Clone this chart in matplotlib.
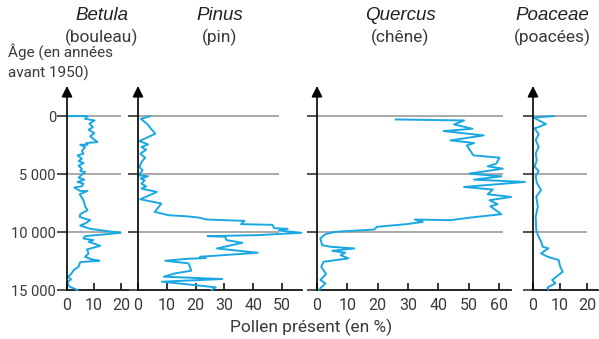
import matplotlib
matplotlib.use("Agg")
import matplotlib.pyplot as plt

# pollen percentages, ages in years before 1950
betula_age = [0, 0, 229, 373, 660, 946, 1176, 1463, 1749, 2237, 2323, 2466, 2466, 2667,
              3011, 3241, 3384, 3671, 3872, 4044, 4273, 4531, 4732, 4818, 5105, 5306,
              5478, 5679, 5822, 6052, 6166, 6453, 6453, 6740, 7256, 7772, 8116, 8461,
              8690, 8833, 8977, 9264, 9436, 9723, 9952, 10067, 10181, 10354, 10554,
              10698, 10841, 11185, 11501, 11845, 12132, 12361, 12476, 12590, 12992,
              13279, 13623, 13852, 14082, 14369, 14713, 15000]
betula_val = [0.2, 7.6, 6.7, 10.2, 8.3, 9.6, 8.0, 10.1, 8.6, 11.3, 7.1, 7.6, 4.9, 6.7,
              5.5, 6.1, 3.9, 5.5, 4.3, 6.1, 4.3, 5.5, 4.9, 6.7, 5.2, 4.3,
              6.4, 3.9, 6.1, 5.5, 2.7, 4.9, 7.6, 4.7, 6.1, 6.7, 7.6, 4.9,
              4.7, 6.4, 8.6, 6.7, 4.9, 8.6, 16.0, 19.9, 14.7, 6.7, 6.1,
              9.8, 8.0, 12.3, 7.4, 8.0, 6.7, 9.2, 12.0, 4.9, 4.3,
              2.5, 1.5, 0.4, 1.5, 0.0, 1.0, 3.9]

pinus_age = [0, 230, 660, 1520, 2151, 2438, 2667, 2897, 3241, 3585, 3958, 4388, 4675,
             5105, 5191, 5392, 5535, 5822, 6052, 6252, 6539, 7170, 7543, 8260, 8547,
             8633, 8747, 8920, 9034, 9321, 9378, 9665, 9723, 9866, 10067, 10153,
             10267, 10354, 10411, 10698, 10927, 11415, 11788, 12132, 12246, 12304,
             12476, 12705, 13336, 13565, 13852, 14053, 14283, 14770, 15000]
pinus_val = [4.3, 1.0, 3.1, 6.0, 0.5, 3.5, 1.2, 2.8, 0.8, 2.5, 1.2, 0.5, 1.6,
             0.2, 3.5, 0.9, 2.3, 1.2, 2.8, 1.2, 6.6, 0.8, 8.1, 5.8, 10.6,
             16.4, 21.0, 23.9, 37.0, 35.8, 46.7, 47.3, 52.0, 49.0, 56.8, 49.9,
             41.8, 24.2, 30.3, 30.8, 36.3, 27.4, 41.6, 21.6, 23.6, 17.3,
             9.5, 17.6, 18.5, 12.9, 9.0, 29.3, 8.3, 27.0, 25.6]

quercus_age = [287, 373, 717, 1090, 1290, 1663, 2094, 2237, 2323, 2524, 3384, 3585,
               4101, 4331, 4531, 4961, 5191, 5478, 5679, 6109, 6338, 6740, 6969, 7256,
               7600, 7772, 8461, 8747, 8977, 8920, 9120, 9321, 9550, 9780, 9980, 10181,
               10554, 11128, 11271, 11415, 11616, 11788, 11988, 12275, 12562, 12992,
               13623, 14139, 14426, 14856, 15000]
quercus_val = [26.0, 48.5, 45.2, 51.3, 41.8, 55.0, 44.0, 49.1, 51.8, 49.4, 51.6, 60.2,
               59.1, 56.3, 61.3, 50.2, 60.8, 51.8, 68.6, 48.5, 58.0, 56.3, 64.1, 56.9,
               59.6, 57.2, 60.8, 50.7, 44.0, 32.3, 34.9, 29.5, 19.7, 19.0, 6.1, 2.8,
               1.1, 1.7, 4.5, 12.3, 5.0, 9.3, 7.8, 10.4, 2.2, 1.4,
               3.0, 1.1, 2.8, 1.1, 0.8]

poaceae_age = [0, 115, 690, 1063, 1552, 2069, 2644, 3219, 3794, 4368, 4713, 5173, 5748,
               6380, 6954, 7816, 8679, 9829, 10260, 10835, 11266, 11410, 11841, 12128,
               12416, 12991, 13422, 14140, 14427, 14772, 14944]
poaceae_val = [7.7, 0.2, 4.8, 0.6, 2.1, 1.0, 2.1, 1.0, 1.4, 0.6, 2.1, 1.0, 1.4,
               3.0, 1.2, 1.8, 1.0, 1.2, 1.8, 3.0, 3.6, 5.7, 3.0, 5.4,
               9.5, 10.1, 11.0, 7.1, 8.3, 5.4, 5.7]

titles = ["Betula", "Pinus", "Quercus", "Poaceae"]
subtitles = ["(bouleau)", "(pin)", "(chêne)", "(poacées)"]
age_ticks = [0, 5000, 10000, 15000]
age_labels = ["0", "5 000", "10 000", "15 000"]
grid_ages = [0, 5000, 10000]

W, H = 599, 339
LINE = "#1aa8e2"
GREY = "#9b9b9b"
TXT = "#3a3a3a"
FONT = "Roboto"

fig = plt.figure(figsize=(W / 100, H / 100), dpi=100)

# panel geometry in pixels: axis x, right end, xlim max, grid end, title centre
panels = [
    (67, 128, 22.6, 20, 102, [0, 10, 20], betula_age, betula_val),
    (138, 302, 57, 49, 220, [0, 10, 20, 30, 40, 50], pinus_age, pinus_val),
    (317, 511, 64, 61.5, 400, [0, 10, 20, 30, 40, 50, 60], quercus_age, quercus_val),
    (533, 598, 24.1, 20, 552, [0, 10, 20], poaceae_age, poaceae_val),
]
y_top, y_bot = 86, 290

for i, (x0, x1, xmax, gend, cx, xt, age, val) in enumerate(panels):
    ax = fig.add_axes([x0 / W, (H - y_bot) / H, (x1 - x0) / W, (y_bot - y_top) / H])
    ax.set_xlim(0, xmax)
    ax.set_ylim(15000, -2600)
    ax.hlines(grid_ages, 0, gend, color=GREY, lw=1.2, zorder=1)
    ax.plot(val, age, color=LINE, lw=1.4, zorder=3, clip_on=False)
    for s in ["top", "right", "left"]:
        ax.spines[s].set_visible(False)
    ax.spines["bottom"].set_linewidth(1.2)
    ax.annotate("", xy=(0, 1), xytext=(0, 0), xycoords="axes fraction",
                arrowprops=dict(arrowstyle="-|>", color="k", lw=1.2,
                                mutation_scale=16, shrinkA=0, shrinkB=0))
    ax.set_yticks(age_ticks)
    ax.tick_params(axis="y", direction="out", length=7, width=1.1, color="#222222", pad=1)
    if i == 0:
        ax.set_yticklabels(age_labels, fontsize=10.5, color=TXT, family=FONT)
    else:
        ax.set_yticklabels([])
    ax.set_xticks(xt)
    ax.set_xticklabels([str(t) for t in xt], fontsize=11.5, color=TXT, family=FONT)
    ax.tick_params(axis="x", direction="in", length=5, width=1.1, pad=6)
    ax.patch.set_visible(False)

    fig.text(cx / W, 1 - 15 / H, titles[i], ha="center", va="center",
             fontsize=13.5, style="italic", family="Liberation Sans", color="#222222")
    fig.text(cx / W, 1 - 37 / H, subtitles[i], ha="center", va="center",
             fontsize=12.5, family=FONT, color=TXT)

fig.text(8 / W, 1 - 52 / H, "Âge (en années", ha="left", va="center",
         fontsize=11, family=FONT, color=TXT)
fig.text(8 / W, 1 - 73 / H, "avant 1950)", ha="left", va="center",
         fontsize=11, family=FONT, color=TXT)
fig.text(311 / W, 1 - 327 / H, "Pollen présent (en %)", ha="center", va="center",
         fontsize=12.5, family=FONT, color=TXT)

fig.savefig("out.png", dpi=100)
